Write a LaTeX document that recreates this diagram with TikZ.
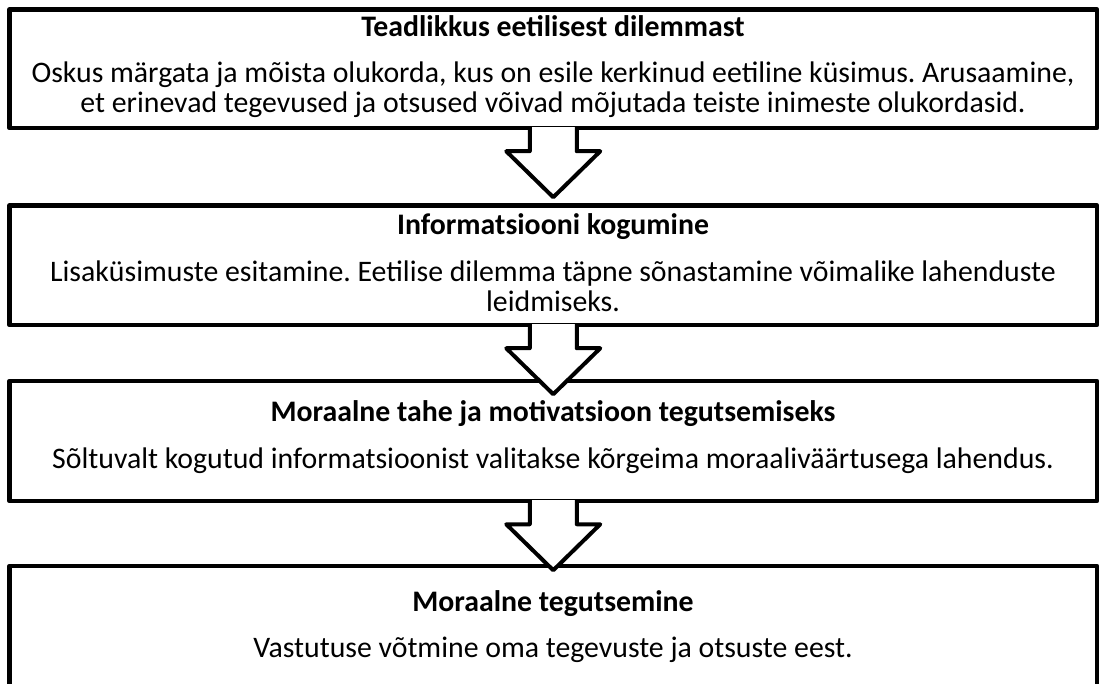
\documentclass[tikz,border=0pt]{standalone}
\usepackage{fontspec}
\setmainfont{Carlito}
\usepackage{tikz}
\usetikzlibrary{calc}
\frenchspacing

\begin{document}
\begin{tikzpicture}[
    x=1pt, y=-1pt,
    stagebox/.style={
        rectangle,
        draw=black,
        line width=4.5pt,
        line join=round,
        minimum width=1087.5pt,
        inner sep=0pt
    },
    stagetitle/.style={
        anchor=base,
        inner sep=0pt,
        font=\fontsize{29.8}{30}\selectfont\bfseries
    },
    stagetext/.style={
        anchor=base,
        align=center,
        inner sep=0pt,
        font=\fontsize{29.8}{30}\selectfont
    },
    blockarrow/.style={
        draw=black,
        fill=white,
        line width=4pt,
        line join=round
    }
]
    \clip (0,0) rectangle (1101,684);

    % Boxes
    \node[stagebox, minimum height=118.5pt] (awareness) at (553.25,68.75) {};
    \node[stagebox, minimum height=119.5pt] (gathering) at (553.25,265.25) {};
    \node[stagebox, minimum height=120pt] (motivation) at (553.25,441) {};
    \node[stagebox, minimum height=154pt] (action) at (553.25,643) {};

    % Titles
    \node[stagetitle] (awarenesstitle) at (553,36.7) {Teadlikkus eetilisest dilemmast};
    \node[stagetitle] (gatheringtitle) at (553,235) {Informatsiooni kogumine};
    \node[stagetitle] (motivationtitle) at (553,422) {Moraalne tahe ja motivatsioon tegutsemiseks};
    \node[stagetitle] (actiontitle) at (553,611) {Moraalne tegutsemine};

    % Descriptions (base = last line)
    \node[stagetext] (awarenesstext) at (553,113) {Oskus märgata ja mõista olukorda, kus on esile kerkinud eetiline küsimus. Arusaamine,\\ et erinevad tegevused ja otsused võivad mõjutada teiste inimeste olukordasid.};
    \node[stagetext] (gatheringtext) at (553,312) {Lisaküsimuste esitamine. Eetilise dilemma täpne sõnastamine võimalike lahenduste\\ leidmiseks.};
    \node[stagetext] (motivationtext) at (553,468) {Sõltuvalt kogutud informatsioonist valitakse kõrgeima moraaliväärtusega lahendus.};
    \node[stagetext] (actiontext) at (553,657) {Vastutuse võtmine oma tegevuste ja otsuste eest.};

    % Arrows
    \draw[blockarrow] ($(awareness.south)+(-23.5,-3)$) -- ++(0,24) -- ++(-23.5,0) -- ++(47,46) -- ++(47,-46) -- ++(-23.5,0) -- ++(0,-24);
    \draw[blockarrow] ($(gathering.south)+(-23.5,-3)$) -- ++(0,24) -- ++(-23.5,0) -- ++(47,46) -- ++(47,-46) -- ++(-23.5,0) -- ++(0,-24);
    \draw[blockarrow] ($(motivation.south)+(-23.5,-3)$) -- ++(0,24) -- ++(-23.5,0) -- ++(47,46) -- ++(47,-46) -- ++(-23.5,0) -- ++(0,-24);

\end{tikzpicture}
\end{document}
